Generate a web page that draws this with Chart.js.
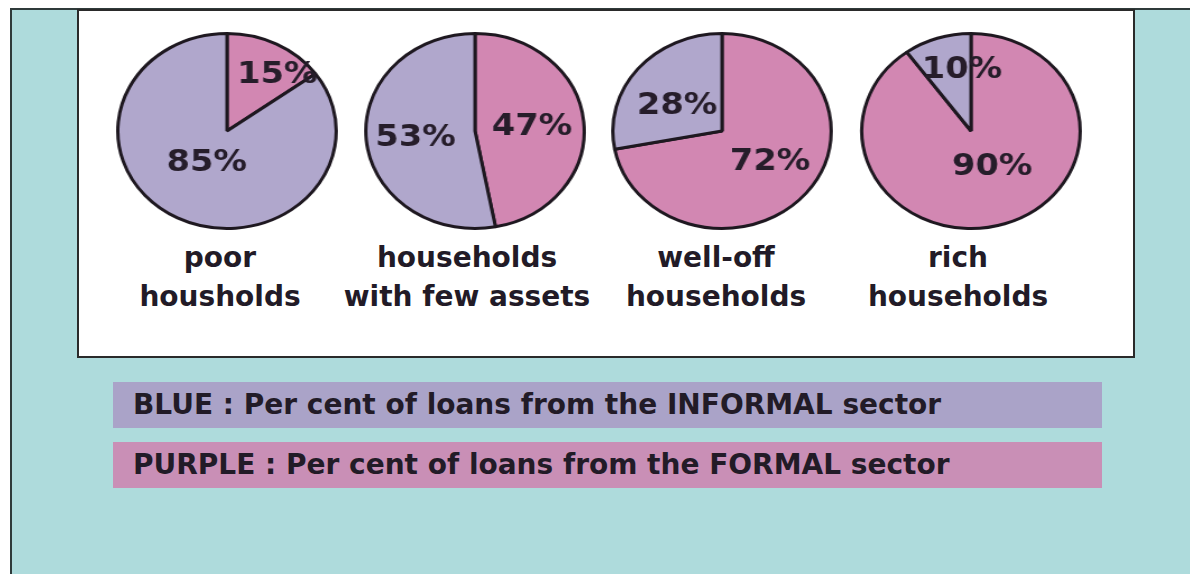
<!DOCTYPE html>
<html>
<head>
<meta charset="utf-8">
<script src="https://cdn.jsdelivr.net/npm/chart.js@4/dist/chart.umd.min.js"></script>
<style>
  html, body { margin:0; padding:0; }
  body { width:1190px; height:574px; position:relative; background:#fff; overflow:hidden;
         font-family:"DejaVu Sans", sans-serif; font-weight:bold; color:#221b27; }
  #bg { position:absolute; left:10px; top:8px; right:0; bottom:0; background:#aedbdc;
        border-left:2px solid #2f3a3a; border-top:2px solid #2f3a3a; }
  #panel { position:absolute; left:77px; top:9px; width:1054px; height:345px; background:#fff;
           border:2px solid #2a2a2a; }
  .pie { position:absolute; width:200px; height:200px; transform:scaleX(1.12); }
  .cat { position:absolute; top:238px; width:300px; margin-left:-150px; text-align:center;
         font-size:28px; line-height:39px; }
  .key { position:absolute; left:113px; width:989px; height:46px; line-height:46px;
         font-size:28px; padding-left:20px; box-sizing:border-box; }
</style>
</head>
<body>
<div id="bg"></div>
<div id="panel"></div>
<div id="keys"></div>
<script>
// data
const categories = [['poor', 'housholds'], ['households', 'with few assets'], ['well-off', 'households'], ['rich', 'households']];
const formalShare = [15, 47, 72, 90];    // purple
const informalShare = [85, 53, 28, 10];  // blue
const seriesNames = ['BLUE : Per cent of loans from the INFORMAL sector', 'PURPLE : Per cent of loans from the FORMAL sector'];

const C = { blue:'#b0a7cc', purple:'#d287b2', keyBlue:'#aaa3c8', keyPurple:'#c98fb6', line:'#1e1820', text:'#261d2a' };

// layout only: pie centres, label centres, % label nudges (formal, informal)
const pieX = [227, 475, 722, 971];
const catX = [220, 467, 716, 958];
const nudge = [
  [[45, -56], [-18, 32]],
  [[51, -4], [-53, 7]],
  [[43, 31], [-40, -25]],
  [[19, 36], [-8, -61]],
];

const pctLabels = {
  id: 'pctLabels',
  afterDatasetsDraw(chart, args, opts) {
    const { ctx } = chart;
    const arc = chart.getDatasetMeta(0).data[0];
    const n = nudge[opts.idx];
    ctx.save();
    ctx.font = 'bold 30px "DejaVu Sans", sans-serif';
    ctx.fillStyle = C.text;
    ctx.textAlign = 'center';
    ctx.textBaseline = 'middle';
    chart.data.datasets[0].data.forEach((v, i) => {
      ctx.fillText(v + '%', arc.x + n[i][0], arc.y + n[i][1]);
    });
    ctx.restore();
  }
};

categories.forEach((cat, i) => {
  const cv = document.createElement('canvas');
  cv.className = 'pie';
  cv.style.left = (pieX[i] - 100) + 'px';
  cv.style.top = '31px';
  document.body.appendChild(cv);

  new Chart(cv, {
    type: 'pie',
    data: {
      labels: ['FORMAL', 'INFORMAL'],
      datasets: [{
        data: [formalShare[i], informalShare[i]],
        backgroundColor: [C.purple, C.blue],
        borderColor: C.line,
        borderWidth: 3,
      }]
    },
    options: {
      responsive: false,
      animation: false,
      layout: { padding: 1 },
      plugins: { legend: { display: false }, tooltip: { enabled: false }, pctLabels: { idx: i } }
    },
    plugins: [pctLabels]
  });

  const lab = document.createElement('div');
  lab.className = 'cat';
  lab.style.left = catX[i] + 'px';
  lab.innerHTML = cat.join('<br>');
  document.body.appendChild(lab);
});

const keyBg = [C.keyBlue, C.keyPurple];
const keyTop = [382, 442];
seriesNames.forEach((s, i) => {
  const k = document.createElement('div');
  k.className = 'key';
  k.style.top = keyTop[i] + 'px';
  k.style.background = keyBg[i];
  k.textContent = s;
  document.getElementById('keys').appendChild(k);
});
</script>
</body>
</html>
